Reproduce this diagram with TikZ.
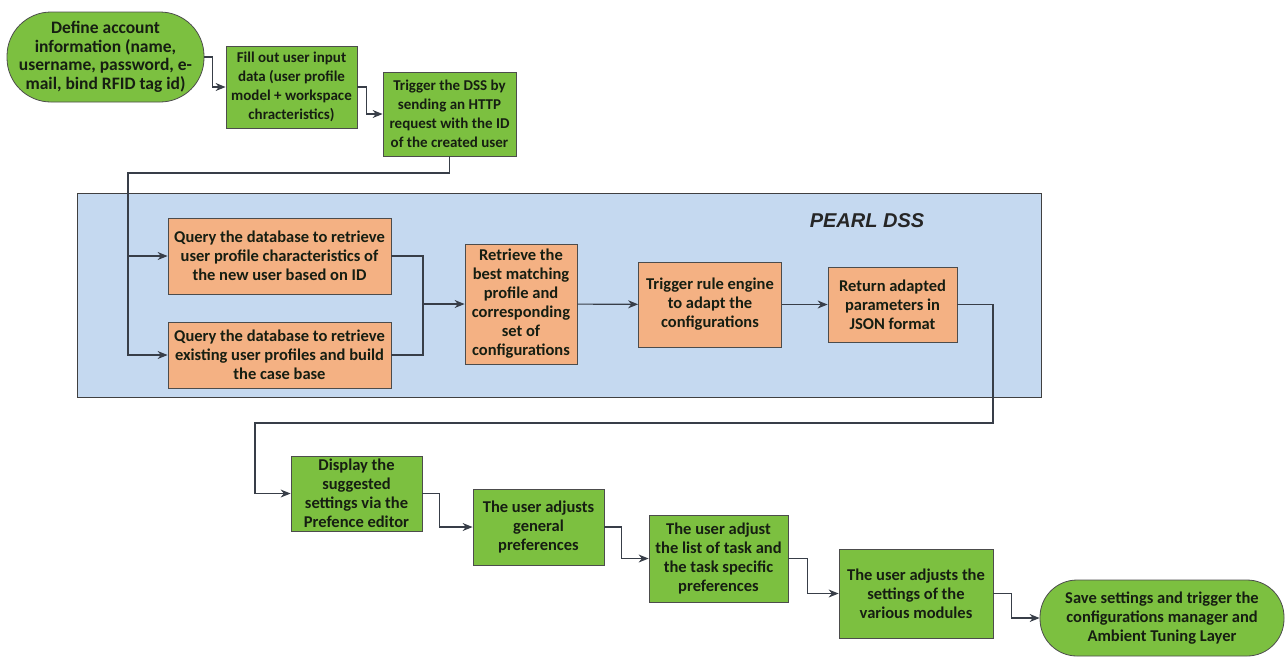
\documentclass[tikz,border=0pt]{standalone}
\usepackage{fontspec}
\setmainfont{Carlito}
\newfontfamily\dssfont{Liberation Sans}
\usetikzlibrary{arrows.meta,calc,positioning}

\definecolor{stepgreen}{RGB}{124,192,64}
\definecolor{dssorange}{RGB}{244,177,131}
\definecolor{dssblue}{RGB}{197,217,240}
\definecolor{linkgray}{RGB}{56,62,72}
\definecolor{inkdark}{RGB}{22,30,18}

\tikzset{
  box/.style={draw=black!70, line width=0.8pt, align=center, inner sep=2pt,
    font=\bfseries\fontsize{16.5}{19}\selectfont, text=inkdark},
  greenbox/.style={box, fill=stepgreen},
  orangebox/.style={box, fill=dssorange},
  smalltext/.style={font=\bfseries\fontsize{15}{19}\selectfont},
  bigtext/.style={font=\bfseries\fontsize{17.5}{18.5}\selectfont},
  link/.style={draw=linkgray, line width=1.1pt},
}

\begin{document}
\begin{tikzpicture}[x=1pt, y=-1pt, >={Stealth[length=10pt,width=8pt]}]
	\useasboundingbox (0,0) rectangle (1287,657);
	% PEARL DSS container
	\draw[fill=dssblue, draw=black!75, line width=0.9pt] (77,193) rectangle (1041,397);
	\node[font=\dssfont\bfseries\itshape\fontsize{20}{22}\selectfont, text=black!85] (dsslabel) at (867,221) {PEARL DSS};

	% top row
	\node[greenbox, bigtext, rounded corners=44pt, minimum width=197pt, minimum height=90pt] (start) at (105.5,57) {Define account\\information (name,\\username, password, e-\\mail, bind RFID tag id)};
	\node[greenbox, smalltext, minimum width=131pt, minimum height=82pt] (fill) at (291.5,87) {Fill out user input\\data (user profile\\model + workspace\\chracteristics)};
	\node[greenbox, smalltext, minimum width=133pt, minimum height=84pt] (trigdss) at (449.5,114) {Trigger the DSS by\\sending an HTTP\\request with the ID\\of the created user};

	% inside the DSS
	\node[orangebox, minimum width=223pt, minimum height=76pt] (query1) at (279.5,256) {Query the database to retrieve\\user profile characteristics of\\the new user based on ID};
	\node[orangebox, minimum width=223pt, minimum height=66pt] (query2) at (279.5,355) {Query the database to retrieve\\existing user profiles and build\\the case base};
	\node[orangebox, minimum width=112pt, minimum height=120pt] (retrieve) at (521,304) {Retrieve the\\best matching\\profile and\\corresponding\\set of\\configurations};
	\node[orangebox, minimum width=143pt, minimum height=85pt] (rule) at (710,304.5) {Trigger rule engine\\to adapt the\\configurations};
	\node[orangebox, minimum width=129pt, minimum height=75pt] (return) at (892.5,304.5) {Return adapted\\parameters in\\JSON format};

	% bottom row
	\node[greenbox, minimum width=131pt, minimum height=75pt] (display) at (356.5,493.5) {Display the\\suggested\\settings via the\\Prefence editor};
	\node[greenbox, minimum width=131pt, minimum height=76pt] (general) at (538.5,527) {The user adjusts\\general\\preferences};
	\node[greenbox, minimum width=139pt, minimum height=87pt] (tasks) at (718.5,558.5) {The user adjust\\the list of task and\\the task specific\\preferences};
	\node[greenbox, minimum width=154pt, minimum height=89pt] (modules) at (916,593.5) {The user adjusts the\\settings of the\\various modules};
	\node[greenbox, rounded corners=37pt, minimum width=244pt, minimum height=76pt] (finish) at (1162,618) {Save settings and trigger the\\configurations manager and\\Ambient Tuning Layer};

	% bend points
	\coordinate (split) at (128,173);
	\coordinate (merge) at (423,304);
	\coordinate (downR) at (993,423);
	\coordinate (downL) at (255,423);

	\path[link,->]
		(start.east) -- ++(8,0) |- (fill.west);
	\path[link,->]
		(fill.east) -- ++(9,0) |- (trigdss.west);
	\path[link,->]
		(trigdss.south) |- (split) |- (query2.west);
	\path[link,->]
		(split) |- (query1.west);
	\path[link]
		(query1.east) -| (merge)
		(query2.east) -| (merge);
	\path[link,->]
		(merge) -- (retrieve.west);
	\path[link,->]
		(retrieve) -- (rule);
	\path[link,->]
		(rule) -- (return);
	\path[link,->]
		(return.east) -| (downR) -- (downL) |- (display.west);
	\path[link,->]
		(display.east) -- ++(17,0) |- (general.west);
	\path[link,->]
		(general.east) -- ++(17,0) |- (tasks.west);
	\path[link,->]
		(tasks.east) -- ++(19,0) |- (modules.west);
	\path[link,->]
		(modules.east) -- ++(18,0) |- (finish.west);
\end{tikzpicture}
\end{document}
